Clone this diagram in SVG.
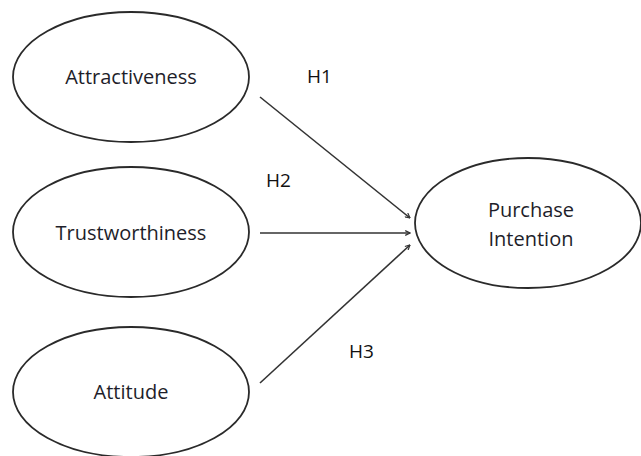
<svg xmlns="http://www.w3.org/2000/svg" width="641" height="456" viewBox="0 0 641 456">
<defs>
<style>
.node ellipse{fill:#fff;stroke:#2a2a2a;stroke-width:1.8}
.lbl{font-family:"Open Sans","Liberation Sans",sans-serif;font-size:20px;fill:#1e1e2a;text-anchor:middle}
.h{font-family:"Open Sans","Liberation Sans",sans-serif;font-size:19px;fill:#111}
.conn line{stroke:#333;stroke-width:1.6;marker-end:url(#ah)}
</style>
<marker id="ah" viewBox="0 0 10 10" refX="9" refY="5" markerWidth="6" markerHeight="6" orient="auto" markerUnits="userSpaceOnUse">
<path d="M1,1 L9,5 L1,9" fill="none" stroke="#333" stroke-width="2"/>
</marker>
</defs>
<rect width="641" height="456" fill="#fff"/>
<g id="attractiveness" class="node"><ellipse cx="131" cy="77" rx="118" ry="65"/><text class="lbl" x="131" y="84">Attractiveness</text></g>
<g id="trustworthiness" class="node"><ellipse cx="131" cy="232" rx="118" ry="65"/><text class="lbl" x="131" y="240">Trustworthiness</text></g>
<g id="attitude" class="node"><ellipse cx="131" cy="392" rx="118" ry="65"/><text class="lbl" x="131" y="399">Attitude</text></g>
<g id="purchase" class="node"><ellipse cx="528" cy="223" rx="113" ry="65"/><text class="lbl" x="531" y="217">Purchase</text><text class="lbl" x="531" y="246">Intention</text></g>
<g id="connectors" class="conn">
<line x1="260" y1="97" x2="410" y2="218"/>
<line x1="260" y1="233" x2="410" y2="233"/>
<line x1="260" y1="383" x2="410" y2="245"/>
</g>
<text class="h" x="307" y="83">H1</text>
<text class="h" x="266" y="187">H2</text>
<text class="h" x="349" y="358">H3</text>
</svg>
